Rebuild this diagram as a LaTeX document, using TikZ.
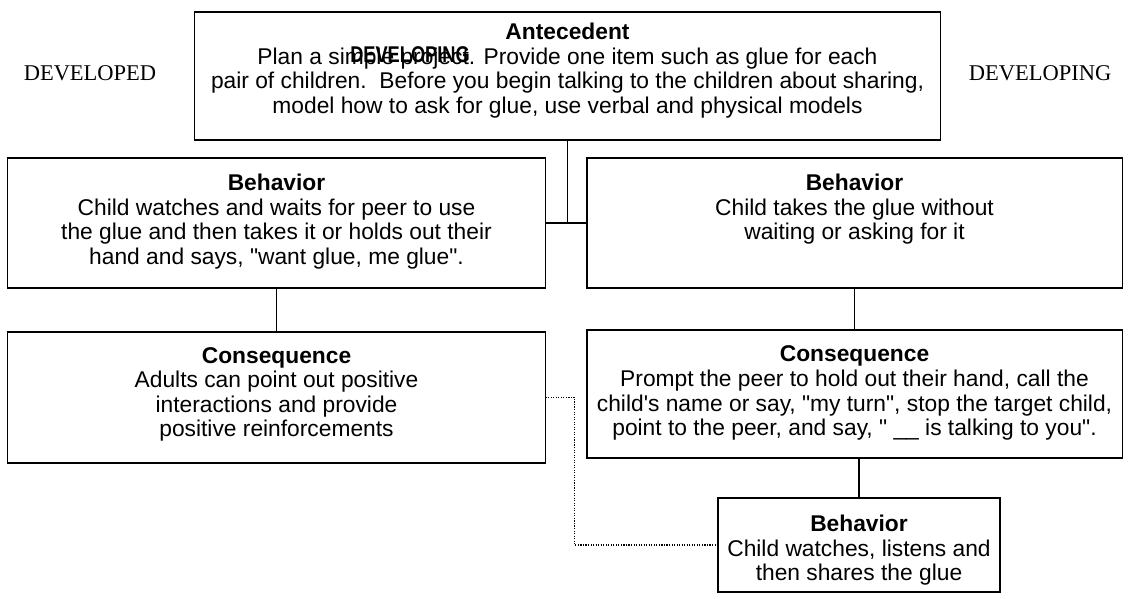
\documentclass[tikz,border=0pt]{standalone}
\usepackage{fontspec}
\setmainfont{Liberation Sans}[Ligatures=TeXOff]
\newfontfamily\capsfont{Liberation Serif}
\usepackage{tikz}
\usetikzlibrary{positioning, calc}

\begin{document}
\begin{tikzpicture}[
    x=0.025cm, y=-0.025cm,
    thick,
    every node/.style={font=\fontsize{16.2}{17.5}\selectfont},
    box/.style={draw, rectangle, inner sep=0pt},
    txt/.style={align=center, inner sep=0pt, anchor=north},
    side/.style={font=\fontsize{16}{18}\selectfont\capsfont},
    dotline/.style={densely dotted, thick}
]
\useasboundingbox (0,0) rectangle (1128,598);

% Side labels
\node[side] (dvd) at (90,73) {DEVELOPED};
\node[side] (dvg) at (1040,73) {DEVELOPING};

% Boxes
\node[box, minimum width=18.625cm, minimum height=3.2cm] (ante) at (567.5,76) {};
\node[box, minimum width=13.425cm, minimum height=3.25cm] (behL) at (276.5,223) {};
\node[box, minimum width=13.375cm, minimum height=3.25cm] (behR) at (854.5,223) {};
\node[box, minimum width=13.425cm, minimum height=3.275cm] (conL) at (276.5,397.5) {};
\node[box, minimum width=13.375cm, minimum height=3.2cm] (conR) at (854.5,394) {};
\node[box, minimum width=7.05cm, minimum height=2.35cm] (behB) at (859,545) {};

% Texts
\node[txt, below=0.28cm of ante.north] (anteT) {\textbf{Antecedent}\\
    Plan a simple project. Provide one item such as glue for each\\
    pair of children.\ \ Before you begin talking to the children about sharing,\\
    model how to ask for glue, use verbal and physical models};
\node[font=\fontsize{16.2}{17.5}\selectfont\bfseries, xscale=0.8] (over) at (410,55) {DEVELOPING};
\node[txt, below=0.4cm of behL.north] (behLT) {\textbf{Behavior}\\
    Child watches and waits for peer to use\\
    the glue and then takes it or holds out their\\
    hand and says, "want glue, me glue".};
\node[txt, below=0.4cm of behR.north] (behRT) {\textbf{Behavior}\\
    Child takes the glue without\\
    waiting or asking for it};
\node[txt, below=0.38cm of conL.north] (conLT) {\textbf{Consequence}\\
    Adults can point out positive\\
    interactions and provide\\
    positive reinforcements};
\node[txt, below=0.4cm of conR.north] (conRT) {\textbf{Consequence}\\
    Prompt the peer to hold out their hand, call the\\
    child's name or say, "my turn", stop the target child,\\
    point to the peer, and say, " \_\_ is talking to you".};
\node[txt, below=0.43cm of behB.north] (behBT) {\textbf{Behavior}\\
    Child watches, listens and\\
    then shares the glue};

% Connectors
\draw (ante.south) -- (ante.south |- behL.east);
\draw (behL.east) -- (behR.west);
\draw (behL.south) -- (conL.north);
\draw (behR.south) -- (conR.north);
\draw (behB.north) -- (behB.north |- conR.south);
\draw[dotline] (conL.east) -- ++(29,0) |- (behB.west);

\end{tikzpicture}
\end{document}
